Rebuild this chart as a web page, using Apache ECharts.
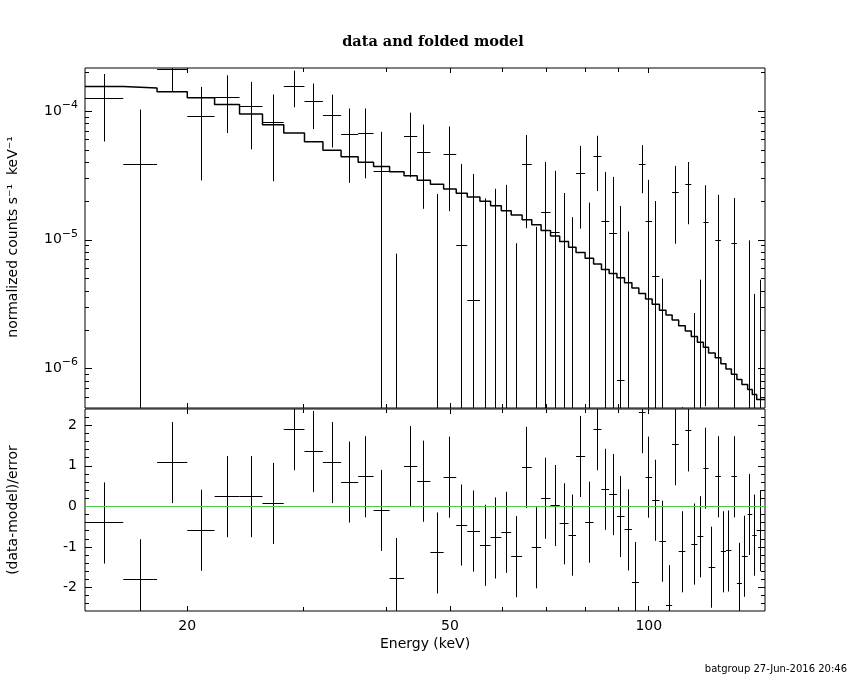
<!DOCTYPE html>
<html>
<head>
<meta charset="utf-8">
<script src="https://cdn.jsdelivr.net/npm/echarts@6.0.0/dist/echarts.min.js"></script>
<style>
  html, body { margin: 0; padding: 0; background: #fff; }
  #chart { width: 850px; height: 680px; }
</style>
</head>
<body>
<div id="chart"></div>
<script>
// ---------------- data ----------------
const BIN_EDGES_KEV = [14.0, 16.0, 18.0, 20.0, 22.0, 24.0, 26.0, 28.0, 30.1, 32.1,
  34.2, 36.3, 38.3, 40.5, 42.6, 44.6, 46.7, 48.9, 51.1, 53.1,
  55.5, 57.6, 59.8, 61.9, 64.3, 66.5, 68.7, 71.0, 73.3, 75.6,
  77.6, 80.1, 82.5, 84.8, 87.1, 89.5, 91.9, 94.3, 96.6, 98.9,
  101.2, 103.8, 106.2, 108.5, 111.0, 113.6, 116.0, 118.5, 121.0, 123.2,
  126.1, 128.6, 130.9, 133.4, 136.0, 138.4, 141.2, 143.5, 145.7, 150.0];

const MODEL_COUNTS = [1.554e-4, 1.510e-4, 1.413e-4, 1.269e-4, 1.125e-4, 9.48e-5, 7.82e-5, 6.74e-5, 5.77e-5, 4.97e-5,
  4.41e-5, 4.01e-5, 3.71e-5, 3.37e-5, 3.15e-5, 2.90e-5, 2.70e-5, 2.48e-5, 2.30e-5, 2.15e-5,
  1.99e-5, 1.84e-5, 1.68e-5, 1.56e-5, 1.43e-5, 1.31e-5, 1.18e-5, 1.07e-5, 9.70e-6, 8.74e-6,
  7.96e-6, 7.19e-6, 6.48e-6, 5.89e-6, 5.48e-6, 5.07e-6, 4.64e-6, 4.22e-6, 3.83e-6, 3.46e-6,
  3.15e-6, 2.84e-6, 2.60e-6, 2.38e-6, 2.15e-6, 1.96e-6, 1.77e-6, 1.60e-6, 1.46e-6, 1.32e-6,
  1.21e-6, 1.09e-6, 9.93e-7, 9.03e-7, 8.21e-7, 7.51e-7, 6.86e-7, 6.28e-7, 5.74e-7];

const DATA_COUNTS = [1.26e-4, 3.87e-5, 2.12e-4, 9.14e-5, 1.285e-4, 1.094e-4, 8.15e-5, 1.565e-4, 1.181e-4, 9.31e-5,
  6.62e-5, 6.74e-5, 3.37e-5, -2.53e-5, 6.39e-5, 4.80e-5, -6.3e-6, 4.63e-5, 9.06e-6, 3.38e-6,
  -7.0e-6, -4.6e-6, -8.0e-7, -1.63e-5, 3.87e-5, -1.34e-5, 1.637e-5, 1.144e-5, -4.0e-7, -6.8e-6,
  3.29e-5, -6.6e-7, 4.41e-5, 1.376e-5, 1.129e-5, 8.11e-7, -4.9e-6, -2.78e-5, 3.87e-5, 1.393e-5,
  5.20e-6, -1.05e-5, -3.29e-5, 2.342e-5, -1.35e-5, 2.67e-5, -1.06e-5, -8.2e-6, 1.351e-5, -1.79e-5,
  9.84e-6, -1.28e-5, -1.24e-5, 9.33e-6, -2.16e-5, -1.36e-5, -1.6e-6, -7.2e-6, -5.9e-6];

const DATA_ERRORS = [6.8e-5, 6.4e-5, 7.0e-5, 6.25e-5, 6.1e-5, 5.9e-5, 5.3e-5, 4.95e-5, 4.56e-5, 4.1e-5,
  3.85e-5, 3.74e-5, 3.53e-5, 3.31e-5, 3.33e-5, 3.06e-5, 2.9e-5, 2.96e-5, 2.98e-5, 2.91e-5,
  2.8e-5, 2.95e-5, 2.75e-5, 2.57e-5, 2.64e-5, 2.6e-5, 2.39e-5, 2.29e-5, 2.35e-5, 2.18e-5,
  2.07e-5, 2.01e-5, 2.02e-5, 1.99e-5, 1.95e-5, 1.75e-5, 1.65e-5, 1.7e-5, 1.57e-5, 1.53e-5,
  1.48e-5, 1.55e-5, 1.45e-5, 1.41e-5, 1.4e-5, 1.35e-5, 1.33e-5, 1.31e-5, 1.3e-5, 1.28e-5,
  1.25e-5, 1.24e-5, 1.22e-5, 1.18e-5, 1.18e-5, 1.17e-5, 1.15e-5, 1.10e-5, 1.08e-5];

const RESIDUALS = [-0.41, -1.81, 1.08, -0.59, 0.24, 0.24, 0.07, 1.89, 1.35, 1.08,
  0.60, 0.73, -0.10, -1.78, 0.98, 0.62, -1.15, 0.72, -0.46, -0.61,
  -0.96, -0.78, -0.64, -1.24, 0.96, -1.02, 0.20, 0.02, -0.43, -0.71,
  1.23, -0.39, 1.89, 0.42, 0.29, -0.25, -0.58, -1.88, 2.31, 0.72,
  0.15, -0.86, -2.45, 1.52, -1.12, 1.86, -0.93, -0.75, 0.94, -1.50,
  0.73, -1.12, -1.10, 0.73, -1.90, -1.23, -0.20, -0.71, -0.60];
const RESIDUAL_ERROR = 1;

// axis ranges and ticks
const X_MIN = 14, X_MAX = 150;
const Y_MIN = 4.935e-7, Y_MAX = 2.16e-4;
const R_MIN = -2.58, R_MAX = 2.40;
const X_MAJOR_TICKS = [20, 50, 100];
const X_MINOR_TICKS = [30, 40, 60, 70, 80, 90];
const X_TICK_LABELS = [20, 50, 100];
const Y_MAJOR_TICKS = [1e-6, 1e-5, 1e-4];
const Y_MINOR_TICKS = [6e-7, 7e-7, 8e-7, 9e-7, 2e-6, 3e-6, 4e-6, 5e-6, 6e-6, 7e-6, 8e-6, 9e-6,
  2e-5, 3e-5, 4e-5, 5e-5, 6e-5, 7e-5, 8e-5, 9e-5, 2e-4];
const R_MAJOR_TICKS = [-2, -1, 0, 1, 2];
const R_MINOR_TICKS = [-2.4, -2.2, -1.8, -1.6, -1.4, -1.2, -0.8, -0.6, -0.4, -0.2,
  0.2, 0.4, 0.6, 0.8, 1.2, 1.4, 1.6, 1.8, 2.2];

const TITLE = 'data and folded model';
const X_NAME = 'Energy (keV)';
const Y_NAME_TOP = 'normalized counts s\u207B\u00B9  keV\u207B\u00B9';
const Y_NAME_BOTTOM = '(data-model)/error';
const FOOTER = 'batgroup 27-Jun-2016 20:46';

// ---------------- build ----------------
const FONT = 'DejaVu Sans';
const MAJOR_LEN = 7, MINOR_LEN = 4, X_MAJOR_LEN = 5;

function tickDef(ticks, len) {
  return { show: true, inside: true, length: len, customValues: ticks, lineStyle: { color: '#000', width: 1 } };
}
function xAxisDef(gridIndex, position, ticks, len, labels) {
  return {
    type: 'log', logBase: 10, gridIndex, position, min: X_MIN, max: X_MAX,
    axisLine: { show: false, onZero: false },
    splitLine: { show: false },
    axisTick: tickDef(ticks, len),
    axisLabel: labels ? {
      show: true, customValues: X_TICK_LABELS, margin: 8, color: '#000', fontSize: 14, fontFamily: FONT,
      formatter: v => String(Math.round(v))
    } : { show: false },
    name: labels ? X_NAME : '',
    nameLocation: 'middle', nameGap: 26,
    nameTextStyle: { color: '#000', fontSize: 14, fontFamily: FONT }
  };
}
function yLogDef(position, ticks, len, labels) {
  return {
    type: 'log', logBase: 10, gridIndex: 0, position, min: Y_MIN, max: Y_MAX,
    axisLine: { show: false, onZero: false },
    splitLine: { show: false },
    axisTick: tickDef(ticks, len),
    axisLabel: labels ? {
      show: true, customValues: Y_MAJOR_TICKS, margin: 7, color: '#000',
      formatter: v => '{b|10}{s|\u2212' + Math.abs(Math.round(Math.log10(v))) + '}',
      rich: {
        b: { fontSize: 14, fontFamily: FONT, color: '#000', verticalAlign: 'middle' },
        s: { fontSize: 11, fontFamily: FONT, color: '#000', verticalAlign: 'middle', padding: [0, 0, 12, 0] }
      }
    } : { show: false }
  };
}
function yResDef(position, ticks, len, labels) {
  return {
    type: 'value', gridIndex: 1, position, min: R_MIN, max: R_MAX,
    axisLine: { show: false, onZero: false },
    splitLine: { show: false },
    axisTick: tickDef(ticks, len),
    axisLabel: labels ? {
      show: true, customValues: R_MAJOR_TICKS, margin: 8, color: '#000', fontSize: 14, fontFamily: FONT,
      formatter: v => String(v)
    } : { show: false }
  };
}

const nBins = MODEL_COUNTS.length;
const modelPts = BIN_EDGES_KEV.map((e, i) => [e, MODEL_COUNTS[Math.min(i, nBins - 1)]]);
const dataItems = MODEL_COUNTS.map((m, i) => [BIN_EDGES_KEV[i], BIN_EDGES_KEV[i + 1], DATA_COUNTS[i], DATA_ERRORS[i]]);
const residItems = RESIDUALS.map((r, i) => [BIN_EDGES_KEV[i], BIN_EDGES_KEV[i + 1], r, RESIDUAL_ERROR]);

const crisp = v => Math.round(v - 0.5) + 0.5;

function makeCrossRenderer(lo, hi) {
  return function (params, api) {
    const x0 = api.value(0), x1 = api.value(1), v = api.value(2), e = api.value(3);
    const xc = (x0 + x1) / 2;
    const clamp = y => Math.min(Math.max(y, lo), hi);
    const children = [];
    const style = { stroke: '#000', lineWidth: 1 };
    if (v >= lo && v <= hi) {
      const a = api.coord([x0, v]), b = api.coord([x1, v]);
      children.push({ type: 'line', shape: { x1: a[0], y1: crisp(a[1]), x2: b[0], y2: crisp(b[1]) }, style });
    }
    if (v + e >= lo && v - e <= hi) {
      const top = api.coord([xc, clamp(v + e)]), bot = api.coord([xc, clamp(v - e)]);
      children.push({ type: 'line', shape: { x1: crisp(top[0]), y1: top[1], x2: crisp(bot[0]), y2: bot[1] }, style });
    }
    return { type: 'group', children };
  };
}

const chart = echarts.init(document.getElementById('chart'), null, { renderer: 'canvas' });
chart.setOption({
  animation: false,
  backgroundColor: '#fff',
  title: {
    text: TITLE, left: 428, top: 30, textAlign: 'center',
    textStyle: { color: '#000', fontSize: 14.5, fontWeight: 'bold', fontFamily: 'DejaVu Serif' }
  },
  grid: [
    { left: 85, top: 68, width: 680, height: 340, show: true, borderColor: '#000', borderWidth: 1, backgroundColor: 'transparent' },
    { left: 85, top: 409, width: 680, height: 202, show: true, borderColor: '#000', borderWidth: 1, backgroundColor: 'transparent' }
  ],
  xAxis: [
    xAxisDef(0, 'bottom', X_MAJOR_TICKS, X_MAJOR_LEN, false),
    xAxisDef(0, 'bottom', X_MINOR_TICKS, MINOR_LEN, false),
    xAxisDef(0, 'top', X_MAJOR_TICKS, X_MAJOR_LEN, false),
    xAxisDef(0, 'top', X_MINOR_TICKS, MINOR_LEN, false),
    xAxisDef(1, 'bottom', X_MAJOR_TICKS, X_MAJOR_LEN, true),
    xAxisDef(1, 'bottom', X_MINOR_TICKS, MINOR_LEN, false),
    xAxisDef(1, 'top', X_MAJOR_TICKS, X_MAJOR_LEN, false),
    xAxisDef(1, 'top', X_MINOR_TICKS, MINOR_LEN, false)
  ],
  yAxis: [
    yLogDef('left', Y_MAJOR_TICKS, MAJOR_LEN, true),
    yLogDef('left', Y_MINOR_TICKS, MINOR_LEN, false),
    yLogDef('right', Y_MAJOR_TICKS, MAJOR_LEN, false),
    yLogDef('right', Y_MINOR_TICKS, MINOR_LEN, false),
    yResDef('left', R_MAJOR_TICKS, MAJOR_LEN, true),
    yResDef('left', R_MINOR_TICKS, MINOR_LEN, false),
    yResDef('right', R_MAJOR_TICKS, MAJOR_LEN, false),
    yResDef('right', R_MINOR_TICKS, MINOR_LEN, false)
  ],
  series: [
    {
      type: 'line', name: 'model', xAxisIndex: 0, yAxisIndex: 0, step: 'end', symbol: 'none',
      data: modelPts, lineStyle: { color: '#000', width: 1.5 }, silent: true, z: 2
    },
    {
      type: 'custom', name: 'data', xAxisIndex: 0, yAxisIndex: 0, data: dataItems,
      encode: { x: [0, 1], y: 2 }, renderItem: makeCrossRenderer(Y_MIN, Y_MAX), clip: true, silent: true, z: 3
    },
    {
      type: 'custom', name: 'residuals', xAxisIndex: 4, yAxisIndex: 4, data: residItems,
      encode: { x: [0, 1], y: 2 }, renderItem: makeCrossRenderer(R_MIN, R_MAX), clip: true, silent: true, z: 3,
      markLine: {
        silent: true, symbol: ['none', 'none'], label: { show: false },
        lineStyle: { color: '#00ff00', width: 1.2, type: 'solid' },
        data: [{ yAxis: 0 }]
      }
    }
  ],
  graphic: [
    {
      type: 'text', x: 13, y: 237, rotation: Math.PI / 2,
      style: { text: Y_NAME_TOP, fill: '#000', font: '14px "DejaVu Sans"', textAlign: 'center', textVerticalAlign: 'middle' }
    },
    {
      type: 'text', x: 13, y: 510, rotation: Math.PI / 2,
      style: { text: Y_NAME_BOTTOM, fill: '#000', font: '14px "DejaVu Sans"', textAlign: 'center', textVerticalAlign: 'middle' }
    },
    {
      type: 'text', x: 847, y: 669,
      style: { text: FOOTER, fill: '#000', font: '10px "DejaVu Sans"', textAlign: 'right', textVerticalAlign: 'middle' }
    }
  ]
});
</script>
</body>
</html>
